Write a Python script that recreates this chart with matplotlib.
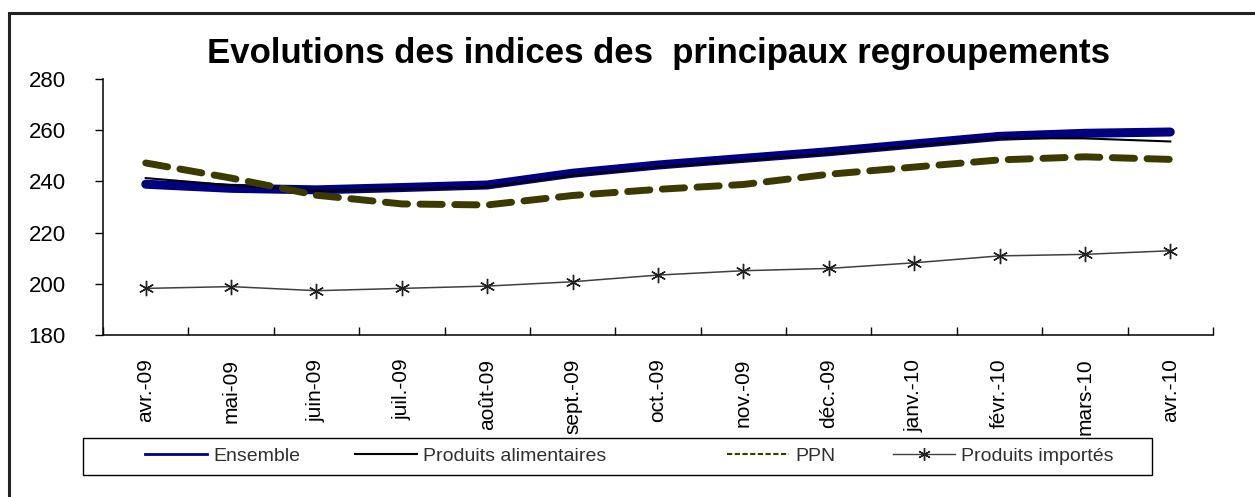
import matplotlib.pyplot as plt
from matplotlib.lines import Line2D
from matplotlib.patches import Rectangle

plt.rcParams['font.family'] = ['Liberation Sans', 'DejaVu Sans']

# --- Données ---
mois = ['avr.-09', 'mai-09', 'juin-09', 'juil.-09', 'août-09', 'sept.-09', 'oct.-09',
        'nov.-09', 'déc.-09', 'janv.-10', 'févr.-10', 'mars-10', 'avr.-10']
ensemble = [238.9, 237.3, 236.7, 237.6, 238.6, 243.2, 246.4, 249.0, 251.6, 254.6, 257.6, 258.8, 259.3]
alimentaires = [241.3, 238.5, 236.3, 237.0, 237.8, 242.3, 245.6, 248.2, 250.8, 253.9, 256.9, 256.8, 255.6]
ppn = [247.2, 241.3, 234.6, 231.2, 230.8, 234.5, 236.9, 238.8, 242.8, 245.6, 248.4, 249.6, 248.6]
importes = [198.2, 198.9, 197.3, 198.2, 199.1, 200.8, 203.4, 205.1, 206.0, 208.2, 210.9, 211.5, 212.9]

x = list(range(len(mois)))

fig = plt.figure(figsize=(12.55, 4.97), dpi=100)
ax = fig.add_axes([0.0821, 0.326, 0.8844, 0.515])

# cadre extérieur (zone du graphique)
fig.patches.append(Rectangle((9 / 1255, -0.05), 1.2, 0.05 + 1 - 13 / 497,
                             transform=fig.transFigure, fill=False,
                             edgecolor='#222222', linewidth=2.2))

ax.plot(x, alimentaires, color='black', linewidth=1.5, zorder=3)
ax.plot(x, ensemble, color='#000080', linewidth=6.5, solid_capstyle='round', zorder=2)
ax.plot(x, ppn, color='#3b3b00', linewidth=5, dashes=(3.2, 1.8),
        dash_capstyle='round', zorder=4)
ax.plot(x, importes, color='#404040', linewidth=1.1, marker=(6, 2, 0),
        markersize=11, markeredgecolor='#202020', markeredgewidth=1.0, zorder=5)

ax.set_xlim(-0.5, len(mois) - 0.5)
ax.set_ylim(180, 280)
ax.set_yticks(range(180, 281, 20))
ax.tick_params(axis='y', direction='out', length=6, width=1, pad=21, labelsize=16)

ax.set_xticks(x)
ax.set_xticklabels(mois, rotation=90, fontsize=15)
ax.set_xticks([i - 0.5 for i in range(len(mois) + 1)], minor=True)
ax.tick_params(axis='x', which='major', length=0, pad=17)
ax.tick_params(axis='x', which='minor', direction='in', length=6, width=1)

for s in ['top', 'right']:
    ax.spines[s].set_visible(False)
for s in ['left', 'bottom']:
    ax.spines[s].set_linewidth(1.1)

fig.text(0.525, 0.893, 'Evolutions des indices des  principaux regroupements',
         ha='center', va='center', fontsize=25, fontweight='bold')

# --- Légende (cadre + une entrée par série, placées comme dans l'original) ---
fig.patches.append(Rectangle((83 / 1255, 1 - 475 / 497), (1152 - 83) / 1255, 37 / 497,
                             transform=fig.transFigure, fill=False,
                             edgecolor='black', linewidth=1))
poignees = [
    Line2D([], [], color='#000080', linewidth=2),
    Line2D([], [], color='black', linewidth=1.5),
    Line2D([], [], color='#3b3b00', linewidth=1.5, dashes=(2.5, 1.2)),
    Line2D([], [], color='#404040', linewidth=1, marker=(6, 2, 0), markersize=9,
           markeredgecolor='#202020'),
]
noms = ['Ensemble', 'Produits alimentaires', 'PPN', 'Produits importés']
debuts = [145, 355, 727, 893]
for h, n, d in zip(poignees, noms, debuts):
    leg = fig.legend([h], [n], loc='center left', bbox_to_anchor=(d / 1255, 1 - 456 / 497),
                     fontsize=14, frameon=False, handlelength=3.2, handletextpad=0.3,
                     borderpad=0, borderaxespad=0)
    for t in leg.get_texts():
        t.set_color('#303030')

fig.savefig('out.png', dpi=100)
